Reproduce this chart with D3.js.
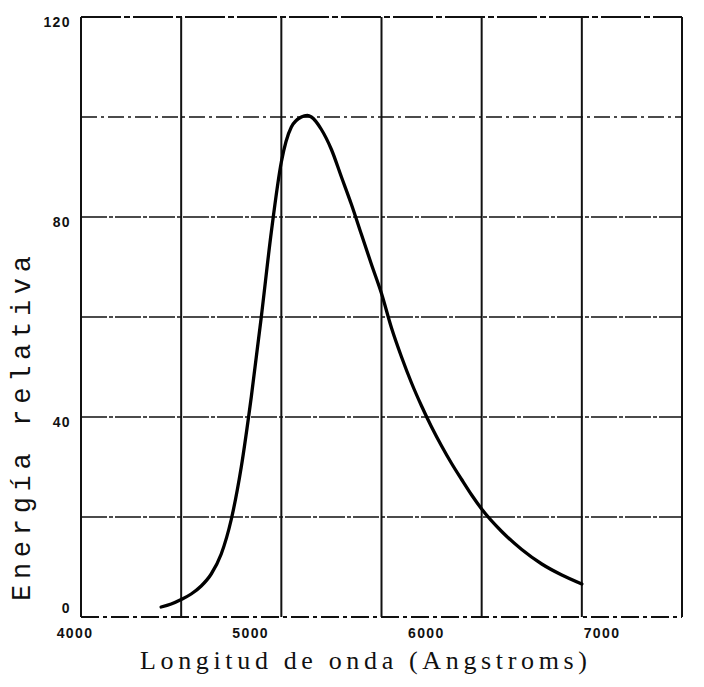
<!DOCTYPE html>
<html>
<head>
<meta charset="utf-8">
<script src="https://cdn.jsdelivr.net/npm/d3@7"></script>
<style>
  html, body { margin: 0; padding: 0; background: #fff; }
  svg { display: block; }
</style>
</head>
<body>
<svg id="chart" width="704" height="687"></svg>
<script>
// ---- data ----
const wavelengths = [4400, 4450, 4500, 4550, 4600, 4650, 4700, 4750, 4800, 4850, 4900, 4950,
  5000, 5050, 5100, 5130, 5150, 5200, 5250, 5300, 5350, 5400, 5450, 5500, 5550, 5600, 5650,
  5700, 5750, 5800, 5850, 5900, 5950, 6000, 6100, 6200, 6300, 6400, 6500];
const energy = [2.0, 2.6, 3.5, 4.6, 6.2, 8.6, 12.6, 19.5, 30, 44, 60, 77,
  91, 98, 100, 100.3, 100, 97.5, 93.5, 88, 82.5, 76.5, 70.5, 64.7, 57.8, 52, 46.8,
  42.2, 38, 34.2, 30.7, 27.5, 24.4, 21.6, 17.1, 13.5, 10.6, 8.4, 6.6];
const xGrid = [4500, 5000, 5500, 6000, 6500];
const yGrid = [20, 40, 60, 80, 100];
const xTickLabels = [4000, 5000, 6000, 7000];
const yTickLabels = [0, 40, 80, 120];
const xTitle = "Longitud de onda (Angstroms)";
const yTitle = "Energía relativa";

// ---- scales ----
const svg = d3.select("#chart");
const x = d3.scaleLinear().domain([4000, 7000]).range([81, 682]);
const y = d3.scaleLinear().domain([0, 120]).range([617, 17]);
// the printed x tick labels sit on a compressed spacing relative to the grid
const xLab = d3.scaleLinear().domain([4000, 7000]).range([75, 602]);

const ink = "#111";

// horizontal grid lines (dash-dot)
svg.append("g").selectAll("line").data(yGrid).join("line")
  .attr("x1", x(4000)).attr("x2", x(7000))
  .attr("y1", d => y(d)).attr("y2", d => y(d))
  .attr("stroke", ink).attr("stroke-width", 1.6)
  .attr("stroke-dasharray", d => d === 100 ? "16,4,3,4" : "26,2,4,2");

// vertical grid lines (solid)
svg.append("g").selectAll("line").data(xGrid).join("line")
  .attr("x1", d => x(d)).attr("x2", d => x(d))
  .attr("y1", y(120)).attr("y2", y(0))
  .attr("stroke", ink).attr("stroke-width", 2);

// frame
const frame = svg.append("g").attr("stroke", ink).attr("fill", "none");
frame.append("line").attr("x1", x(4000)).attr("x2", x(4000)).attr("y1", y(120)).attr("y2", y(0)).attr("stroke-width", 2);
frame.append("line").attr("x1", x(7000)).attr("x2", x(7000)).attr("y1", y(120)).attr("y2", y(0)).attr("stroke-width", 2);
frame.append("line").attr("x1", x(4000)).attr("x2", x(7000)).attr("y1", y(120)).attr("y2", y(120)).attr("stroke-width", 2).attr("stroke-dasharray", "40,3,6,3");
frame.append("line").attr("x1", x(4000)).attr("x2", x(7000)).attr("y1", y(0)).attr("y2", y(0)).attr("stroke-width", 1.8).attr("stroke-dasharray", "18,4,4,4");

// curve
const pts = wavelengths.map((w, i) => [w, energy[i]]);
const line = d3.line().x(d => x(d[0])).y(d => y(d[1])).curve(d3.curveMonotoneX);
svg.append("path").datum(pts).attr("d", line)
  .attr("fill", "none").attr("stroke", "#000").attr("stroke-width", 3.3)
  .attr("stroke-linejoin", "round").attr("stroke-linecap", "round");

// y tick labels
svg.append("g").selectAll("text").data(yTickLabels).join("text")
  .attr("x", 71).attr("y", d => y(d) + (d === 0 ? -4 : 10))
  .attr("text-anchor", "end")
  .attr("font-family", "Liberation Sans, Arial, sans-serif")
  .attr("font-weight", "bold").attr("font-size", 14).attr("letter-spacing", 1.4)
  .attr("fill", ink)
  .text(d => d);

// x tick labels
svg.append("g").selectAll("text").data(xTickLabels).join("text")
  .attr("x", d => xLab(d)).attr("y", 638)
  .attr("text-anchor", "middle")
  .attr("font-family", "Liberation Sans, Arial, sans-serif")
  .attr("font-weight", "bold").attr("font-size", 14).attr("letter-spacing", 1.4)
  .attr("fill", ink)
  .text(d => d);

// x title
svg.append("text")
  .attr("x", 140).attr("y", 669)
  .attr("textLength", 447).attr("lengthAdjust", "spacing")
  .attr("font-family", "Liberation Serif, 'Times New Roman', serif")
  .attr("font-size", 26).attr("fill", ink)
  .text(xTitle);

// y title
svg.append("text")
  .attr("transform", "translate(30,601) rotate(-90)")
  .attr("textLength", 345).attr("lengthAdjust", "spacing")
  .attr("font-family", "Liberation Mono, 'Courier New', monospace")
  .attr("font-size", 27).attr("fill", ink)
  .text(yTitle);
</script>
</body>
</html>
